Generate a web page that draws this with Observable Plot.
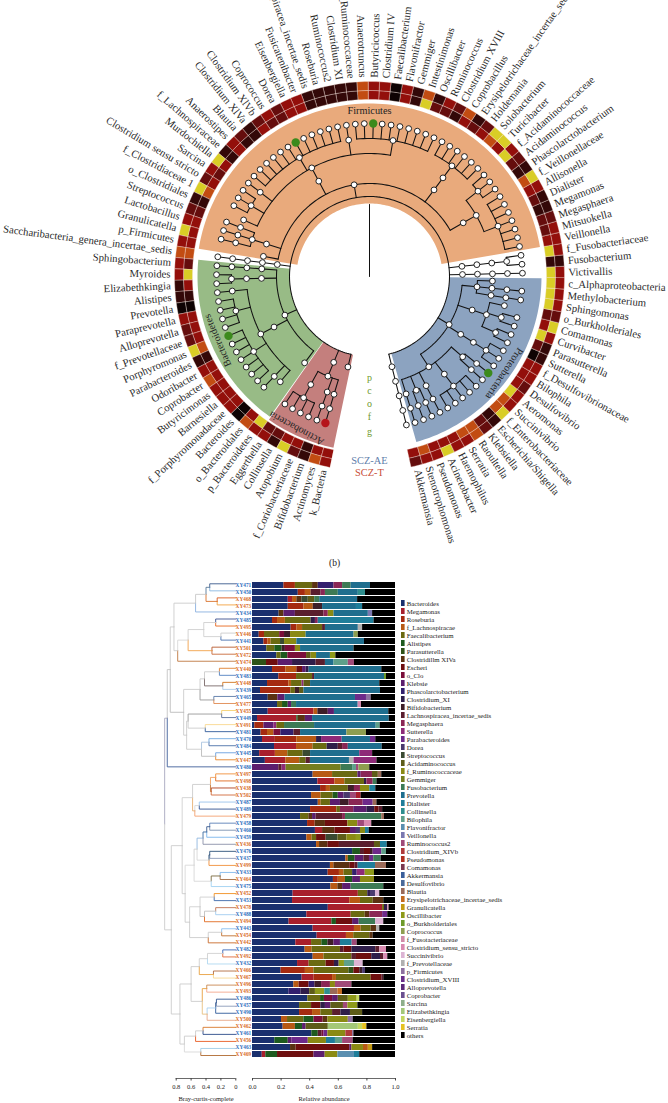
<!DOCTYPE html>
<html><head><meta charset="utf-8">
<script src="https://cdn.jsdelivr.net/npm/d3@7"></script>
<script src="https://cdn.jsdelivr.net/npm/@observablehq/plot@0.6"></script>
<style>html,body{margin:0;background:#fff}#page{position:relative;width:668px;height:1103px;overflow:hidden;background:#fff}
#page svg{position:absolute;left:0;top:0;background:transparent}</style>
</head><body><div id="page"></div>
<script>
const taxa=["k_Bacteria","Actinomyces","Bifidobacterium","f_Coriobacteriaceae","Atopobium","Collinsella","Eggerthella","p_Bacteroidetes","o_Bacteroidales","Bacteroides","f_Porphyromonadaceae","Barnesiella","Butyricimonas","Coprobacter","Odoribacter","Parabacteroides","Porphyromonas","f_Prevotellaceae","Alloprevotella","Paraprevotella","Prevotella","Alistipes","Elizabethkingia","Myroides","Sphingobacterium","Saccharibacteria_genera_incertae_sedis","p_Firmicutes","Granulicatella","Lactobacillus","Streptococcus","o_Clostridiales","f_Clostridiaceae 1","Clostridium sensu stricto","Sarcina","Murdochiella","f_Lachnospiraceae","Anaerostipes","Blautia","Clostridium XlVa","Clostridium XlVb","Coprococcus","Dorea","Eisenbergiella","Fusicatenibacter","Lachnospiracea_incertae_sedis","Roseburia","Ruminococcus2","Clostridium XI","f_Ruminococcaceae","Anaerotruncus","Butyricicoccus","Clostridium IV","Faecalibacterium","Flavonifractor","Gemmiger","Intestinimonas","Oscillibacter","Ruminococcus","Clostridium XVIII","Coprobacillus","Erysipelotrichaceae_incertae_sedis","Holdemania","Solobacterium","Turicibacter","f_Acidaminococcaceae","Acidaminococcus","Phascolarctobacterium","f_Veillonellaceae","Allisonella","Dialister","Megamonas","Megasphaera","Mitsuokella","Veillonella","f_Fusobacteriaceae","Fusobacterium","Victivallis","c_Alphaproteobacteria","Methylobacterium","Sphingomonas","o_Burkholderiales","Comamonas","Curvibacter","Parasutterella","Sutterella","f_Desulfovibrionaceae","Bilophila","Desulfovibrio","Aeromonas","Succinivibrio","f_Enterobacteriaceae","Escherichia/Shigella","Klebsiella","Raoultella","Serratia","Haemophilus","Acinetobacter","Pseudomonas","Stenotrophomonas","Akkermansia"];
const A="Actinobacteria/Actino",B="Bacteroidetes/Bacteroidia/Bacteroidales",C="Firmicutes/Clostridia/Clostridiales",E="Firmicutes/Erysipelotrichia/Erysipelotrichales/Erysipelotrichaceae",N="Firmicutes/Negativicutes/Selenomonadales",P="Proteobacteria",G=P+"/Gamma";
const lineages=["",A+"/Actinomycetales/Actinomycetaceae",A+"/Bifidobacteriales/Bifidobacteriaceae",A+"/Coriobacteriales/Coriobacteriaceae",A+"/Coriobacteriales/Coriobacteriaceae",A+"/Coriobacteriales/Coriobacteriaceae",A+"/Coriobacteriales/Coriobacteriaceae","Bacteroidetes",B,B+"/Bacteroidaceae",B+"/Porphyromonadaceae",B+"/Porphyromonadaceae",B+"/Porphyromonadaceae",B+"/Porphyromonadaceae",B+"/Porphyromonadaceae",B+"/Porphyromonadaceae",B+"/Porphyromonadaceae",B+"/Prevotellaceae",B+"/Prevotellaceae",B+"/Prevotellaceae",B+"/Prevotellaceae",B+"/Rikenellaceae","Bacteroidetes/Flavobacteriia/Flavobacteriales/Flavobacteriaceae","Bacteroidetes/Flavobacteriia/Flavobacteriales/Flavobacteriaceae","Bacteroidetes/Sphingobacteriia/Sphingobacteriales/Sphingobacteriaceae","Saccharibacteria/Sc/So/Sf","Firmicutes","Firmicutes/Bacilli/Lactobacillales/Carnobacteriaceae","Firmicutes/Bacilli/Lactobacillales/Lactobacillaceae","Firmicutes/Bacilli/Lactobacillales/Streptococcaceae",C,C+"/Clostridiaceae",C+"/Clostridiaceae",C+"/Clostridiaceae",C+"/Peptoniphilaceae",C+"/Lachnospiraceae",C+"/Lachnospiraceae",C+"/Lachnospiraceae",C+"/Lachnospiraceae",C+"/Lachnospiraceae",C+"/Lachnospiraceae",C+"/Lachnospiraceae",C+"/Lachnospiraceae",C+"/Lachnospiraceae",C+"/Lachnospiraceae",C+"/Lachnospiraceae",C+"/Lachnospiraceae",C+"/Peptostreptococcaceae",C+"/Ruminococcaceae",C+"/Ruminococcaceae",C+"/Ruminococcaceae",C+"/Ruminococcaceae",C+"/Ruminococcaceae",C+"/Ruminococcaceae",C+"/Ruminococcaceae",C+"/Ruminococcaceae",C+"/Ruminococcaceae",C+"/Ruminococcaceae",E,E,E,E,E,E,N+"/Acidaminococcaceae",N+"/Acidaminococcaceae",N+"/Acidaminococcaceae",N+"/Veillonellaceae",N+"/Veillonellaceae",N+"/Veillonellaceae",N+"/Veillonellaceae",N+"/Veillonellaceae",N+"/Veillonellaceae",N+"/Veillonellaceae","Fusobacteria/Fc/Fo/Ff","Fusobacteria/Fc/Fo/Ff","Lentisphaerae/Lc/Lo/Lf",P+"/Alpha",P+"/Alpha/Rhizobiales/Methylobacteriaceae",P+"/Alpha/Sphingomonadales/Sphingomonadaceae",P+"/Beta/Burkholderiales",P+"/Beta/Burkholderiales/Comamonadaceae",P+"/Beta/Burkholderiales/Comamonadaceae",P+"/Beta/Burkholderiales/Sutterellaceae",P+"/Beta/Burkholderiales/Sutterellaceae",P+"/Delta/Desulfovibrionales/Desulfovibrionaceae",P+"/Delta/Desulfovibrionales/Desulfovibrionaceae",P+"/Delta/Desulfovibrionales/Desulfovibrionaceae",G+"/Aeromonadales/Aeromonadaceae",G+"/Aeromonadales/Succinivibrionaceae",G+"/Enterobacteriales/Enterobacteriaceae",G+"/Enterobacteriales/Enterobacteriaceae",G+"/Enterobacteriales/Enterobacteriaceae",G+"/Enterobacteriales/Enterobacteriaceae",G+"/Enterobacteriales/Enterobacteriaceae",G+"/Pasteurellales/Pasteurellaceae",G+"/Pseudomonadales/Moraxellaceae",G+"/Pseudomonadales/Pseudomonadaceae",G+"/Xanthomonadales/Xanthomonadaceae","Verrucomicrobia/Vc/Vo/Vf"];
// SCZ-AE (outer) and SCZ-T (inner) heat levels, one per taxon
const outerLevel=[3,4,1,2,5,1,3,3,4,0,3,3,3,4,3,1,5,2,2,3,0,1,1,3,3,4,3,5,3,2,1,5,2,3,5,1,3,2,1,2,3,2,3,3,1,1,1,1,1,4,3,3,0,3,1,4,1,3,2,4,1,2,5,5,3,2,1,5,3,1,1,2,3,3,3,1,3,3,3,3,2,5,3,1,1,3,3,2,3,3,5,1,2,4,3,3,5,3,3,2];
const innerLevel=[3,3,1,3,3,2,2,5,3,0,3,3,3,3,3,1,4,3,3,3,0,1,3,5,2,4,3,3,3,2,1,4,3,2,3,1,3,1,1,3,2,2,3,3,1,1,1,1,1,4,3,3,0,3,1,5,2,2,1,3,2,3,4,3,5,2,1,4,3,2,1,2,2,3,5,1,5,5,5,5,2,3,5,2,0,3,3,3,5,4,4,1,2,4,4,3,3,3,4,3];
const heatPalette=["#0e0303","#330808","#650d0d","#930f0b","#c24c12","#d9cd26"];
const wedgeNames=["Actinobacteria","Bacteroidetes","Firmicutes","Proteobacteria"];
const wedgeFirst=[0,7,26,77];
const wedgeLast=[6,24,73,98];
const wedgeFill=["#c47f7d","#98bb86","#e9aa7c","#8ca3c0"];
const highlightGreen=["Butyricicoccus","Dorea","Porphyromonas","Aeromonas"];
const highlightRed=["Actinomyces"];
const keyLetters=["p","c","o","f","g"];

const samples=["XY471","XY450","XY468","XY473","XY434","XY485","XY495","XY446","XY441","XY501","XY472","XY474","XY440","XY483","XY448","XY439","XY465","XY477","XY455","XY449","XY491","XY481","XY470","XY484","XY445","XY447","XY480","XY497","XY498","XY438","XY502","XY487","XY489","XY479","XY458","XY460","XY459","XY436","XY476","XY437","XY499","XY433","XY464","XY475","XY452","XY453","XY478","XY488","XY494","XY443","XY454","XY442","XY482","XY492","XY432","XY466","XY467","XY496","XY493","XY486","XY457","XY490","XY500","XY462","XY461","XY456","XY463","XY469"];
const orangeSamples=["XY468","XY473","XY495","XY446","XY501","XY472","XY474","XY440","XY448","XY477","XY455","XY491","XY447","XY497","XY498","XY438","XY502","XY479","XY436","XY499","XY464","XY452","XY478","XY494","XY454","XY442","XY492","XY466","XY467","XY496","XY493","XY500","XY462","XY456","XY469"];
const branchColors=["#3a5a8c","#8ab8e0","#d85a1e","#f2a040","#8ab0e0","#3a5090","#e8661e","#cccccc","#4a72b0","#b85a30","#c86a3a","#c07840","#e08030","#5080c0","#d0741e","#a8c8e8","#5a7aa8","#e08a50","#f5d070","#5a7098","#f8d890","#2f5a9a","#70a8e0","#4a70a8","#6aa0e0","#e8862a","#3f5f9a","#f0903a","#e06a1e","#b0401e","#d06a3a","#9ac4ec","#2f5090","#f4a070","#5a80b8","#7a90b0","#7ab4ec","#8a90a8","#2a5078","#8a98b8","#f0903a","#80b8ec","#a06a40","#a0d0f0","#f09020","#3a66a8","#c07050","#a0ccf0","#e06a20","#8ac0f0","#c07030","#c86a2a","#3a68b8","#e06a3a","#b0d8f0","#b06a40","#f8d890","#c88850","#f4a88c","#2f5590","#8a9ab8","#2f5a9a","#e8a888","#d8782a","#2a4a88","#e85a20","#a0cce8","#b06a30"];
const merges=[["a1","XY471","XY450",.35,"#5a7a9a"],["a2","XY468","XY473",.25,"#d8702a"],["a3","a1","a2",.40,"#c8c8c8"],["a4","a3","XY434",.54,"#cccccc"],["a5","XY485","XY495",.27,"#cfcfcf"],["a6","XY446","XY441",.20,"#d0d0d0"],["a7","a5","a6",.43,"#cfcfcf"],["a8","XY501","XY472",.32,"#f2a14a"],["a9","a7","a8",.64,"#d8d8d8"],["a10","a9","XY474",.78,"#cccccc"],["a11","a4","a10",.83,"#cccccc"],
["b1","XY440","XY483",.22,"#cccccc"],["b2","XY448","XY439",.175,"#7a6a6a"],["b3","b1","b2",.42,"#cccccc"],["b4","XY465","XY477",.295,"#999999"],["b5","b3","b4",.48,"#cccccc"],["b6","XY455","XY449",.19,"#999999"],["b7","XY491","XY481",.41,"#cccccc"],["b8","b6","b7",.64,"#cccccc"],["b9","XY470","XY484",.36,"#aac4e0"],["b10","XY445","XY447",.27,"#bbbbbb"],["b11","b9","b10",.46,"#cccccc"],["b12","b8","b11",.66,"#cccccc"],["b13","b5","b12",.70,"#bbbbbb"],["c0","a11","b13",.88,"#c4c4c4"],["c1","c0","XY480",.92,"#a8a8c0"],
["d1","XY497","XY498",.27,"#f0a060"],["d2","XY438","XY502",.33,"#c87838"],["d3","d1","d2",.34,"#cccccc"],["d4","XY487","XY489",.49,"#d8d8d8"],["d5","d4","XY479",.55,"#e8b070"],["d6","d3","d5",.58,"#d0d0d0"],["e1","XY458","XY460",.35,"#3a5a90"],["e2","e1","XY459",.39,"#3a6aa0"],["e3","e2","XY436",.44,"#90b8e0"],["e4","XY476","XY437",.35,"#2a5078"],["e5","e4","XY499",.36,"#d8d8d8"],["e6","e3","e5",.52,"#d0d0d0"],["e7","XY433","XY464",.21,"#7a6a40"],["e8","e7","XY475",.33,"#d8d8d8"],["e9","e6","e8",.56,"#d8d8d8"],["f1","XY452","XY453",.29,"#d0d0d0"],["f2","XY478","XY488",.27,"#c0c0c0"],["f3","f2","XY494",.42,"#c0c0c0"],["f4","f1","f3",.48,"#d0d0d0"],["f5","XY443","XY454",.19,"#cccccc"],["f6","f5","XY442",.37,"#cccccc"],["f7","f4","f6",.62,"#cccccc"],["e10","e9","f7",.68,"#cccccc"],["d7","d6","e10",.72,"#cccccc"],
["g1","XY482","XY492",.175,"#d0d0d0"],["g2","g1","XY432",.38,"#d0d0d0"],["g3","XY466","XY467",.30,"#e8a040"],["g4","g2","g3",.49,"#cccccc"],["g5","XY496","XY493",.39,"#e8a040"],["g6","XY486","XY457",.26,"#2f5590"],["g7","g6","XY490",.27,"#a8d0f0"],["g8","g7","XY500",.385,"#e8c080"],["g9","g5","g8",.45,"#cccccc"],["g10","g4","g9",.60,"#cccccc"],["h1","XY462","XY461",.44,"#cccccc"],["h2","h1","XY456",.54,"#cccccc"],["h3","XY463","XY469",.47,"#d8d8d8"],["h4","h2","h3",.69,"#cccccc"],["g11","g10","h4",.75,"#cccccc"],["c2","d7","g11",.866,"#cccccc"],["root","c1","c2",.955,"#bbbbbb"]];

const legendNames=["Bacteroides","Megamonas","Roseburia","f_Lachnospiracae","Faecalibacterium","Alistipes","Parasutterella","Clostridillm XIVa","Escheri","o_Clo","Klebsie","Phascolarctobacterium","Clostridium_XI","Bifidobacterium","Lachnospiracea_incertae_sedis","Megasphaera","Sutterella","Parabacteroides","Dorea","Streptococcus","Acidaminococcus","f_Ruminococcaceae","Gemmiger","Fusobacterium","Prevotella","Dialister","Collinsella","Bilophila","Flavonifractor","Veillonella","Ruminococcus2","Clostridium_XIVb","Pseudomonas","Comamonas","Akkermansia","Desulfovibrio","Blautia","Erysipelotrichaceae_incertae_sedis","Granulicatella","Oscillibacter","o_Burkholderiales","Coprococcus","f_Fusotacteriaceae","Clostridium_sensu_stricto","Succinivibrio","f_Prevotellaceae","p_Firmicutes","Clostridium_XVIII","Alloprevotella","Coprobacter","Sarcina","Elizabethkingia","Eisenbergiella","Serratia","others"];
const legendColors=["#1a2f6e","#a81f2c","#a52a10","#b85a14","#6b6a12","#1e5a1e","#2f5218","#5a3212","#6e0f0f","#7a0f3a","#5c1e6e","#33206e","#2f1e4a","#3e1e28","#5a1e2e","#8a2655","#8e2a78","#6e2a8a","#4a3a6e","#3a4a32","#5e5c18","#8a8a14","#757e1e","#3d7a55","#1f6e8e","#1f7e9a","#2e8e8e","#5fa08a","#5a8fb0","#7a78b0","#a04a78","#b03a3a","#b03020","#7a3a50","#3a5f9a","#4a6a9a","#9a6a58","#c46a1e","#c49a14","#8e9a1a","#6e9a2a","#8e9e50","#d08aa8","#d88ab0","#dcb4d4","#b0b0b0","#8e70a0","#6a2e8a","#5e2a7a","#6a5090","#8eae8a","#a4c878","#c4d860","#e6c220","#000000"];
// each row: legend index, cumulative % end, legend index, cumulative % end ...; the rest is "others"
const stackEnds=[[0,22,2,30,4,42,7,46,11,57,15,63,23,69,24,82.5],[0,32,2,37,3,41,14,48,15,51,23,60,24,74,26,79],[0,25,1,28,3,31,7,34.5,19,39,20,43.5,23,47,24,73.5],[0,25,2,36,3,42.5,13,49,24,72.7,25,77],[0,18.6,7,22,10,30,14,50,15,53,21,57,24,81,29,84],[0,14,2,17.5,3,23,4,41,12,44,15,46,25,85],[0,27,2,31,3,35,4,49,14,51,24,74,45,77],[0,4.7,2,8.4,4,19,9,22.4,13,26.6,21,37.5,24,71,41,74],[0,8,2,10.7,3,13,4,19.6,19,22.4,21,31,24,78.3],[0,10,4,15.6,5,20.7,13,23,9,30,21,33.6,24,71],[0,17,4,20,5,24.7,9,37.8,20,41,21,44.8,24,54.5,39,58.3],[6,9.8,8,18,10,28,12,44.5,14,51,24,57,27,67,30,71.3],[0,14,2,23.3,3,31,8,35,10,37.5,12,39.6,24,90.4],[0,18.4,2,30.8,4,42,14,43.4,24,92.3,40,93.7],[0,10.5,2,25.4,3,27.3,4,34.7,16,36,20,40.6,24,89],[0,5.6,2,26.8,4,30,13,32.9,20,36,24,89.5],[0,11,7,17.7,10,22.8,24,72,17,79.7,46,83],[0,17.5,4,21,5,25,10,27.3,23,30.8,24,73.9,43,76.2],[0,11,1,43,3,45.7,13,53,10,57.3,24,95.3],[0,3.5,1,31,5,32,7,37,10,42,24,95.6],[0,1.6,2,8,10,15,16,17,4,22.4,23,43.4,24,86.5,27,89.3],[0,6,2,10.5,3,15,9,19.8,11,29,14,33.6,24,66,41,79.7],[0,7,1,16,2,31,3,44.8,12,48.3,16,62.7,24,82.5,17,86.2],[0,15.4,1,30.8,3,42.4,4,52.2,12,60,14,63,15,67,24,90.7],[0,5,1,16,3,24.7,4,35.4,19,40.6,24,75,16,84],[0,9,1,23.3,3,33,4,37.5,14,40.5,24,67.8,45,71,16,87],[10,18.4,14,20.7,16,23.5,22,62,23,70,27,72.7,30,74.4,41,82],[0,42.4,3,56,4,73.7,10,76,15,83.9,20,88,36,90.4],[0,45.7,1,57.6,3,64.6,4,78.3,12,80,15,84.4,23,87],[0,47.6,2,51.7,3,54.5,4,67,13,71.3,15,75.5,21,82,25,86.2],[0,41.3,3,48,4,56.4,5,60,10,64,18,68.5,30,72.7,1,76],[0,46,3,48,4,54.5,10,61.5,13,67.6,15,77.4,17,84.4,36,87],[0,40.6,2,59,4,61.5,15,70.8,10,80,12,85.5,8,88.5,14,91],[0,33.6,4,39.4,7,42,10,44.5,14,63,15,65,23,90.4,36,92.3],[0,38.5,2,43.8,7,51,8,66.7,21,73.6,30,78.3,43,83.4],[0,44,1,49,7,57.6,8,68.5,10,72.7,18,75.5,21,79,25,81.6],[0,38,3,41.7,4,44.8,8,51.5,19,59.7,20,66,21,72.7,39,76],[0,44.8,3,46.9,7,52.7,8,60.8,14,85.3,20,89.5,25,94.2],[0,70,5,75.5,14,78.3,8,82.5,13,84.4,17,90.4,27,93.7],[0,65.3,3,67,5,71.8,10,77.9,14,81.8,17,84.8,23,90],[0,54.5,3,56.9,7,68,8,71.8,14,73.9,25,86,36,93.7],[0,52.9,2,60.8,3,64,4,70,11,73.2,16,78.8,39,85.3],[0,56.6,2,60,3,65,5,70,10,75.5,21,85.3],[0,54.8,3,59.7,7,63,10,69,23,91.8],[0,28.4,1,74,4,80.6,12,82.5,18,86,44,89],[0,28,1,68,3,75.5,4,84.4,7,91.8],[0,53,1,91,4,92.3,12,94.6,43,95.5],[0,38,1,69,4,78.8,7,82,15,91,17,94.6],[0,25.6,1,55.5,5,58.7,8,70,10,74.6,23,86.2,44,91.8],[0,42.4,1,71.3,3,76,4,83,7,86.7,45,89],[0,45.2,1,65.7,3,70.8,4,82,7,84.4],[0,30.3,1,41.3,4,48.5,5,52.7,13,56.9,10,61.5,25,69.7,30,73.2],[0,36.8,3,41.7,4,61.5,14,63.9,8,69.5,12,86.2,14,89,43,93.7],[0,42.4,3,50,4,69.5,14,72.7,8,83.4,12,89.5,14,91.8,43,94.6],[0,31.5,1,39.6,4,51.5,8,57.3,12,60.6,39,64.3,27,71.3,44,77.4],[0,20,2,37,3,43,4,67.4,6,70.9,8,75,13,77,18,79],[0,34.7,1,43,2,56,3,58.7,4,83,8,90.4,14,91.8],[0,28.9,3,32.6,8,39.6,11,43.6,13,48.3,15,54.5,21,58,30,69.5],[0,25.4,11,33.8,12,40,20,44,39,50.5,26,54.5,36,59.7,37,62.9],[0,38.7,4,47.6,5,50.3,9,56,10,60,20,67,39,73.2,52,75],[0,32.9,4,41.3,8,47.8,12,51,10,54.8,20,63.6,30,66.7,39,73.7],[0,32.9,2,42,3,47.8,4,56,14,61.8,12,68.5,20,77],[0,20.3,3,24.5,4,36,5,43,9,49.4,7,52.7,21,67,46,70.4],[0,21.4,3,30,5,35,10,37.5,20,53,51,74,52,77,53,80],[0,41.5,5,46,14,48.7,9,50,17,52.7,21,65.3,31,70,46,70.9],[0,15.6,5,25,10,27.7,17,39,21,51.7,25,58,27,63,30,70.4],[0,26.6,7,30.5,8,68,10,69.5,21,77.6,3,81,38,84],[0,6.8,1,9.3,5,17.5,8,43,10,50.8,21,59.7,28,71.3,25,75]];

const SERIF='"Liberation Serif",serif';
const page=document.getElementById("page");
const base={width:668,margin:0,style:{fontFamily:SERIF,background:"transparent"},color:{type:"identity"}};

/* ---------- circular cladogram ---------- */
const angleStart=193.4, angleStep=3.36, radii=[80,93,108,123,138,153];
const ang=i=>angleStart+i*angleStep;
const px=(r,a)=>r*Math.sin(a*Math.PI/180), py=(r,a)=>-r*Math.cos(a*Math.PI/180);
const pt=(r,a,extra)=>({x:px(r,a),y:py(r,a),...extra});
const arcPts=(r,a0,a1,extra)=>{const n=Math.max(2,Math.ceil(Math.abs(a1-a0)/1.5));return d3.range(n+1).map(k=>pt(r,a0+(a1-a0)*k/n,extra));};

// tree
const rootNode={key:"",depth:0,children:[],name:""};
const index=new Map([["",rootNode]]);
taxa.forEach((t,i)=>{
  const parts=lineages[i]?lineages[i].split("/"):[];
  let cur=rootNode;
  parts.concat([t]).forEach(p=>{
    const key=cur.key+"/"+p;
    if(!index.has(key)){const n={key,depth:cur.depth+1,children:[],name:p};index.set(key,n);cur.children.push(n);}
    cur=index.get(key);
  });
  cur.angle=ang(i);cur.leaf=true;
});
(function place(n){ if(n.children.length){n.children.forEach(place);n.a0=n.children[0].angle;n.a1=n.children[n.children.length-1].angle;n.angle=(n.a0+n.a1)/2;} })(rootNode);
const treePaths=[],treeNodes=[];let pid=0;
(function walk(n){
  const r=radii[n.depth];
  if(n.children.length){ pid++; treePaths.push(...arcPts(r,n.a0,n.a1,{id:pid}));
    n.children.forEach(c=>{pid++;treePaths.push(pt(radii[c.depth],c.angle,{id:pid}),pt(r,c.angle,{id:pid}));walk(c);});}
  if(n.depth>0){const hl=highlightGreen.includes(n.name)?"#3c8a1c":highlightRed.includes(n.name)?"#b5141a":null;
    treeNodes.push(pt(r,n.angle,{hl}));}
})(rootNode);

const wedges=wedgeNames.flatMap((w,i)=>{
  const a0=ang(wedgeFirst[i]-.45),a1=ang(wedgeLast[i]+.45),ri=w==="Firmicutes"?73:80,ro=w==="Firmicutes"?173:(w==="Actinobacteria"?175:172);
  return [...arcPts(ro,a0,a1,{w,fill:wedgeFill[i]}),...arcPts(ri,a1,a0,{w,fill:wedgeFill[i]})];
});
const cellPoly=(i,r0,r1,level,id)=>{const a0=ang(i-.5),a1=ang(i+.5);
  return [...arcPts(r1,a0,a1,{id,fill:heatPalette[level]}),...arcPts(r0,a1,a0,{id,fill:heatPalette[level]})];};
const cells=taxa.flatMap((t,i)=>[...cellPoly(i,177,186,innerLevel[i],"i"+i),...cellPoly(i,186,195,outerLevel[i],"o"+i)]);
const labelPts=taxa.map((t,i)=>{const a=ang(i)%360;const right=a<180;return pt(199,a,{t,right,rot:right?a-90:a+90});});
const wedgeLabels=[{t:"Firmicutes",x:0,y:-166,rot:0},{t:"Bacteroidetes",x:-152,y:64,rot:247},{t:"Actinobacteria",x:-73,y:152,rot:208.5},{t:"Proteobacteria",x:135,y:97,rot:123.7}];

page.appendChild(Plot.plot({...base,height:575,
  x:{domain:[-369,299],range:[0,668],axis:null},y:{domain:[-276,299],range:[0,575],axis:null},
  marks:[
    Plot.line(wedges,{x:"x",y:"y",z:"w",fill:"fill",stroke:null,curve:"linear-closed"}),
    Plot.line(cells,{x:"x",y:"y",z:"id",fill:"fill",stroke:"#f6e6dc",strokeWidth:.35,curve:"linear-closed"}),
    Plot.line([{x:0,y:0},{x:0,y:-72}],{x:"x",y:"y",stroke:"#111",strokeWidth:1}),
    Plot.line(treePaths,{x:"x",y:"y",z:"id",stroke:"#111",strokeWidth:1.05}),
    Plot.dot(treeNodes.filter(d=>!d.hl),{x:"x",y:"y",r:2.9,fill:"#fff",stroke:"#111",strokeWidth:.9}),
    Plot.dot(treeNodes.filter(d=>d.hl),{x:"x",y:"y",r:4.2,fill:"hl",stroke:null}),
    Plot.text(labelPts.filter(d=>d.right),{x:"x",y:"y",text:"t",rotate:"rot",textAnchor:"start",fontSize:10.7,fill:"#2a2a2a"}),
    Plot.text(labelPts.filter(d=>!d.right),{x:"x",y:"y",text:"t",rotate:"rot",textAnchor:"end",fontSize:10.7,fill:"#2a2a2a"}),
    Plot.text(wedgeLabels,{x:"x",y:"y",text:"t",rotate:"rot",fontSize:10.3,fill:"#222"}),
    Plot.text(keyLetters,{x:()=>0,y:(d,i)=>[101,114.5,127,140,155][i],text:d=>d,fontSize:10,fill:"#6f9a2e"}),
    Plot.text(["SCZ-AE"],{x:()=>0,y:()=>184.6,text:d=>d,fontSize:10.4,fill:"#5f80ab"}),
    Plot.text(["SCZ-T"],{x:()=>0,y:()=>195.8,text:d=>d,fontSize:10.4,fill:"#c9503a"}),
    Plot.text(["(b)"],{x:()=>-35,y:()=>286,text:d=>d,fontSize:9.5,fill:"#222"})
  ]}));

/* ---------- dendrogram ---------- */
const nodeInfo=new Map(samples.map((s,i)=>[s,{y:i,d:0,color:branchColors[i]}]));
const dendroSegs=[];let seg=0;
merges.forEach(([id,a,b,h,color])=>{
  const ca=nodeInfo.get(a),cb=nodeInfo.get(b),y=(ca.y+cb.y)/2;
  [ca,cb].forEach(c=>{seg++;dendroSegs.push({id:seg,d:c.d,y:c.y,color:c.color},{id:seg,d:h,y:c.y,color:c.color},{id:seg,d:h,y,color:c.color});});
  nodeInfo.set(id,{y,d:h,color});
});
const rowTop=583.3,rowBottom=1055;
page.appendChild(Plot.plot({...base,height:1103,
  x:{domain:[.8,0],range:[175.7,235.3],axis:null},y:{domain:[0,samples.length-1],range:[rowTop,rowBottom],axis:null},
  marks:[Plot.line(dendroSegs,{x:"d",y:"y",z:"id",stroke:"color",strokeWidth:.9,curve:"linear"})]}));

/* ---------- stacked bars ---------- */
const bars=stackEnds.flatMap((row,s)=>{
  const out=[];let start=0;
  for(let i=0;i<row.length;i+=2){out.push({s:samples[s],x1:start/100,x2:row[i+1]/100,fill:legendColors[row[i]]});start=row[i+1];}
  out.push({s:samples[s],x1:start/100,x2:1,fill:legendColors[54]});
  return out;
});
const halfRow=(rowBottom-rowTop)/(samples.length-1)/2;
page.appendChild(Plot.plot({...base,height:1103,
  x:{domain:[0,1],range:[252,395],axis:null},
  y:{type:"band",domain:samples,range:[rowTop-halfRow,rowBottom+halfRow],padding:.13,axis:null},
  marks:[
    Plot.barX(bars,{x1:"x1",x2:"x2",y:"s",fill:"fill"}),
    Plot.ruleX([1.004],{stroke:"#aaa",strokeWidth:.7,y1:samples[0],y2:samples[samples.length-1]}),
    Plot.text(samples,{x:()=>0,y:d=>d,text:d=>d,dx:-1.3,textAnchor:"end",fontSize:5.3,fontWeight:"bold",fill:d=>orangeSamples.includes(d)?"#d8691f":"#2f6dbd"})
  ]}));

/* ---------- legend ---------- */
page.appendChild(Plot.plot({...base,height:1103,
  x:{domain:[0,1],range:[401,404.6],axis:null},
  y:{type:"band",domain:legendNames,range:[584,1054.5],padding:.28,axis:null},
  marks:[
    Plot.barX(legendNames,{x1:()=>0,x2:()=>1,y:d=>d,fill:(d,i)=>legendColors[i]}),
    Plot.text(legendNames,{x:()=>1,y:d=>d,text:d=>d,dx:1.6,textAnchor:"start",fontSize:6.8,fill:"#222"})
  ]}));

/* ---------- axes ---------- */
function axisPlot(domain,range,ticks,format,title,titleX){
  return Plot.plot({...base,height:1103,marginBottom:25,
    x:{domain,range,axis:null},y:{domain:[0,1],range:[1078,0],axis:null},
    marks:[
      Plot.ruleY([0],{x1:domain[0],x2:domain[1],stroke:"#444",strokeWidth:.8}),
      Plot.axisX({ticks,tickFormat:format,tickSize:2.5,tickPadding:3.5,fontSize:6.5,label:null,stroke:"#444",fill:"#222",anchor:"bottom"}),
      Plot.text([title],{x:()=>titleX,y:()=>-.0186,text:d=>d,fontSize:6.5,fill:"#222"})
    ]});
}
page.appendChild(axisPlot([.8,0],[175.7,235.3],[.8,.6,.4,.2,0],d=>d===0?"0":String(d),"Bray-curtis-complete",.4));
page.appendChild(axisPlot([0,1],[252,395],[0,.2,.4,.6,.8,1],d3.format(".1f"),"Relative abundance",.5));
</script></body></html>
